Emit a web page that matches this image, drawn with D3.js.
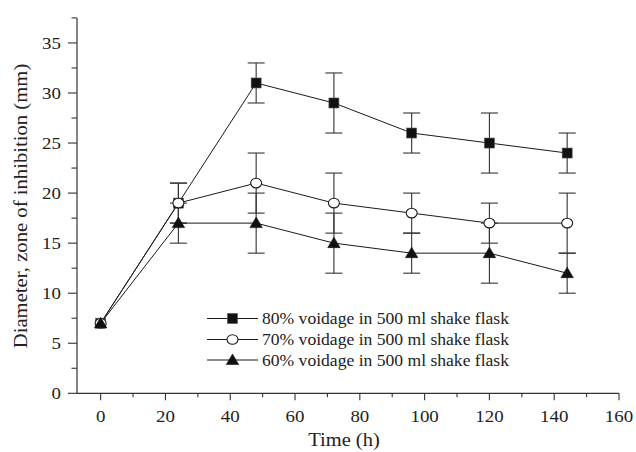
<!DOCTYPE html>
<html>
<head>
<meta charset="utf-8">
<script src="https://cdn.jsdelivr.net/npm/d3@7"></script>
<style>
  body { margin: 0; background: #fff; }
  svg { display: block; }
  text { font-family: "Liberation Serif", "Times New Roman", serif; fill: #222; }
</style>
</head>
<body>
<svg id="chart" width="636" height="452"></svg>
<script>
// ---- data ----
const times = [0, 24, 48, 72, 96, 120, 144];
const s80 = [7, 19, 31, 29, 26, 25, 24];
const e80 = [0, 2, 2, 3, 2, 3, 2];
const s70 = [7, 19, 21, 19, 18, 17, 17];
const e70 = [0, 2, 3, 3, 2, 2, 3];
const s60 = [7, 17, 17, 15, 14, 14, 12];
const e60 = [0, 2, 3, 3, 2, 3, 2];
const seriesNames = [
  "80% voidage in 500 ml shake flask",
  "70% voidage in 500 ml shake flask",
  "60% voidage in 500 ml shake flask"
];
const xTicks = [0, 20, 40, 60, 80, 100, 120, 140, 160];
const yTicks = [0, 5, 10, 15, 20, 25, 30, 35];
const xLabel = "Time (h)";
const yLabel = "Diameter, zone of inhibition (mm)";

const series = [
  { name: seriesNames[0], values: s80, errs: e80, marker: "square" },
  { name: seriesNames[1], values: s70, errs: e70, marker: "circle" },
  { name: seriesNames[2], values: s60, errs: e60, marker: "triangle" }
];

// ---- layout ----
const svg = d3.select("#chart");
const x = d3.scaleLinear().domain([-7.3, 160]).range([77, 619]);
const y = d3.scaleLinear().domain([0, 37.5]).range([393.3, 17.9]);

const ink = "#1a1a1a";

// text helper: horizontally stretched text anchored at (tx,ty)
function stext(parent, tx, ty, str, size, anchor, sx, rot) {
  const g = parent.append("g")
    .attr("transform", `translate(${tx},${ty})` + (rot ? ` rotate(${rot})` : "") + ` scale(${sx},1)`);
  g.append("text").attr("x", 0).attr("y", 0).attr("text-anchor", anchor)
    .attr("font-size", size).text(str);
  return g;
}

function drawMarker(g, type, cx, cy) {
  if (type === "square") {
    g.append("rect").attr("x", cx - 5).attr("y", cy - 5).attr("width", 10).attr("height", 10)
      .attr("fill", "#111").attr("stroke", "#555").attr("stroke-width", 0.6);
  } else if (type === "circle") {
    g.append("ellipse").attr("cx", cx).attr("cy", cy).attr("rx", 5.5).attr("ry", 4.8)
      .attr("fill", "#fff").attr("stroke", ink).attr("stroke-width", 1.1);
  } else {
    g.append("path").attr("d", `M${cx},${cy - 6}L${cx + 6.2},${cy + 4.5}L${cx - 6.2},${cy + 4.5}Z`)
      .attr("fill", "#111").attr("stroke", "#111").attr("stroke-width", 0.6);
  }
}

// axes
const gx = svg.append("g").attr("transform", `translate(0,${y(0)})`);
gx.append("line").attr("x1", x.range()[0]).attr("x2", x(160)).attr("stroke", "#333").attr("stroke-width", 1.2);
d3.range(0, 161, 10).forEach(v => {
  const major = v % 20 === 0;
  gx.append("line").attr("x1", x(v)).attr("x2", x(v)).attr("y1", 0).attr("y2", major ? 7 : 4)
    .attr("stroke", "#333").attr("stroke-width", 1.1);
});
xTicks.forEach(d => stext(gx, x(d), 28.5, d, 17.5, "middle", 1.08));

const gy = svg.append("g").attr("transform", `translate(${x.range()[0]},0)`);
gy.append("line").attr("y1", y(0)).attr("y2", y(37.5)).attr("stroke", "#333").attr("stroke-width", 1.2);
d3.range(0, 37.6, 2.5).forEach(v => {
  const major = v % 5 === 0;
  gy.append("line").attr("x1", 0).attr("x2", major ? -9 : -5.5).attr("y1", y(v)).attr("y2", y(v))
    .attr("stroke", "#333").attr("stroke-width", 1.1);
});
yTicks.forEach(d => stext(gy, -16, y(d) + 6, d, 17.5, "end", 1.08));

// axis labels
stext(svg, 344, 446, xLabel, 19.5, "middle", 1.05);
stext(svg, 27, 206, yLabel, 18, "middle", 1.15, -90);

// lines
const line = d3.line().x((d, i) => x(times[i])).y(d => y(d));
series.forEach(s => {
  svg.append("path").datum(s.values).attr("d", line)
    .attr("fill", "none").attr("stroke", ink).attr("stroke-width", 1);
});

// error bars
const cap = 8.5;
series.forEach(s => {
  const g = svg.append("g");
  s.values.forEach((v, i) => {
    const e = s.errs[i];
    if (!e) return;
    const cx = x(times[i]);
    g.append("line").attr("x1", cx).attr("x2", cx).attr("y1", y(v - e)).attr("y2", y(v + e))
      .attr("stroke", "#333").attr("stroke-width", 1.1);
    [v - e, v + e].forEach(b => {
      g.append("line").attr("x1", cx - cap).attr("x2", cx + cap).attr("y1", y(b)).attr("y2", y(b))
        .attr("stroke", "#333").attr("stroke-width", 1.1);
    });
  });
});

// markers
series.forEach(s => {
  const g = svg.append("g");
  s.values.forEach((v, i) => drawMarker(g, s.marker, x(times[i]), y(v)));
});

// legend
const legendY = [318.5, 339.5, 360];
series.forEach((s, i) => {
  const g = svg.append("g");
  g.append("line").attr("x1", 207).attr("x2", 258).attr("y1", legendY[i]).attr("y2", legendY[i])
    .attr("stroke", ink).attr("stroke-width", 1);
  drawMarker(g, s.marker, 232.5, legendY[i]);
  stext(g, 262, legendY[i] + 5.5, s.name, 16, "start", 1.1);
});
</script>
</body>
</html>
